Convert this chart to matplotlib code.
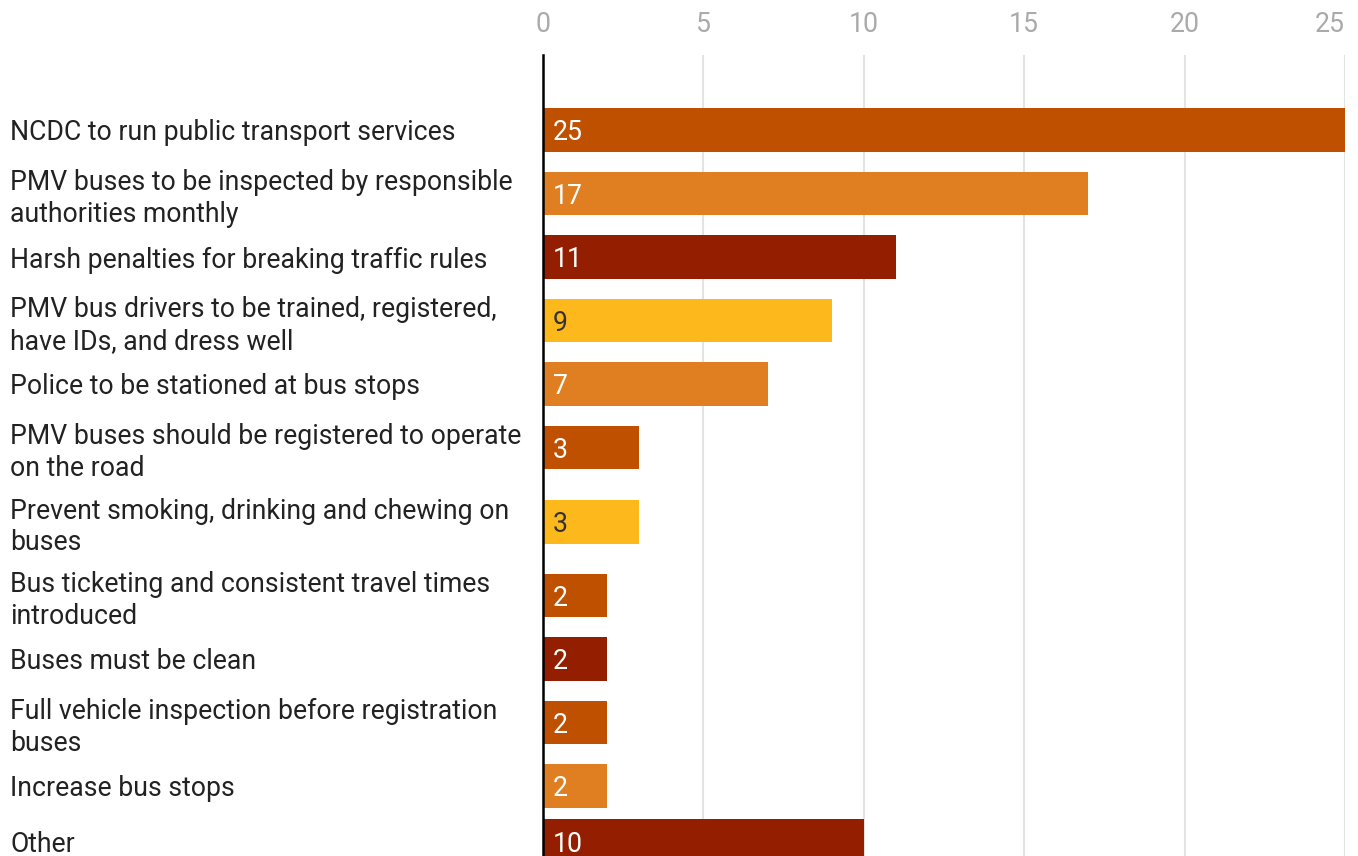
import numpy as np
import matplotlib
matplotlib.use("Agg")
import matplotlib.pyplot as plt

plt.rcParams['font.family'] = ['Roboto', 'DejaVu Sans']

categories = [
    "NCDC to run public transport services",
    "PMV buses to be inspected by responsible\nauthorities monthly",
    "Harsh penalties for breaking traffic rules",
    "PMV bus drivers to be trained, registered,\nhave IDs, and dress well",
    "Police to be stationed at bus stops",
    "PMV buses should be registered to operate\non the road",
    "Prevent smoking, drinking and chewing on\nbuses",
    "Bus ticketing and consistent travel times\nintroduced",
    "Buses must be clean",
    "Full vehicle inspection before registration\nbuses",
    "Increase bus stops",
    "Other",
]
counts = [25, 17, 11, 9, 7, 3, 3, 2, 2, 2, 2, 10]

DARK_ORANGE = '#bf5000'
ORANGE = '#e07f21'
DARK_RED = '#941f00'
YELLOW = '#fdb91c'
bar_colors = [DARK_ORANGE, ORANGE, DARK_RED, YELLOW, ORANGE, DARK_ORANGE,
              YELLOW, DARK_ORANGE, DARK_RED, DARK_ORANGE, ORANGE, DARK_RED]

# rows are not evenly spaced: a few wrapped labels get a little more room
row_gaps = [1, 1, 1, 1, 1, 1.17, 1.16, 1, 1, 1, 0.87]
ypos = np.concatenate([[0], np.cumsum(row_gaps)])

FS = 19.2

fig = plt.figure(figsize=(13.58, 8.56), dpi=100)
ax = fig.add_axes([543 / 1358, 0, (1345 - 543) / 1358, 1 - 55 / 856])

ax.barh(ypos, counts, height=0.69, color=bar_colors, zorder=3)

ax.set_xlim(0, 25)
ax.set_ylim((856 - 130) / 63.5, -75 / 63.5)

ax.set_xticks([0, 5, 10, 15, 20, 25])
ax.xaxis.tick_top()
ax.tick_params(axis='x', length=0, pad=12, labelsize=FS, labelcolor='#aaaaaa')
ax.get_xticklabels()[-1].set_horizontalalignment('right')
ax.grid(axis='x', color='#e3e3e3', linewidth=1.5, zorder=0)

ax.set_yticks(ypos)
ax.set_yticklabels(categories, fontsize=FS, color='#222222', linespacing=1.22)
ax.tick_params(axis='y', length=0, pad=(543 - 10) / 100 * 72)
for lbl in ax.get_yticklabels():
    lbl.set_horizontalalignment('left')

for s in ['top', 'right', 'bottom']:
    ax.spines[s].set_visible(False)
ax.spines['left'].set_color('black')
ax.spines['left'].set_linewidth(1.8)
ax.spines['left'].set_zorder(4)

for y, v, c in zip(ypos, counts, bar_colors):
    txt_color = '#333333' if c == YELLOW else 'white'
    ax.text(0.3, y, str(v), va='center_baseline', ha='left', fontsize=FS,
            color=txt_color, zorder=5)

fig.savefig('out.png', dpi=100)
